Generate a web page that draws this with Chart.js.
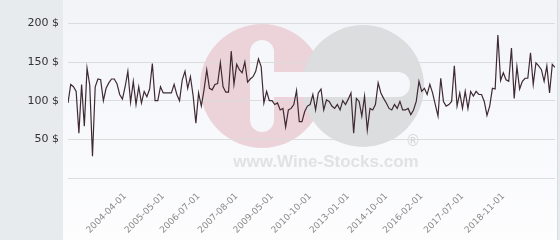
<!DOCTYPE html>
<html>
<head>
<meta charset="utf-8">
<script src="https://cdn.jsdelivr.net/npm/chart.js@4.4.1/dist/chart.umd.min.js"></script>
<style>
    html, body { margin: 0; padding: 0; background: #e7ebee; }
</style>
</head>
<body>
<canvas id="priceChart" width="560" height="240"></canvas>
<script>
// prix par bouteille, un point par cotation
const prices = [
    97, 121, 118, 112, 58, 121, 67, 142, 120, 28, 118, 128, 127, 100, 116, 123, 128, 128, 122, 108,
    102, 118, 138, 98, 125, 95, 118, 97, 112,
    105, 115, 148, 100, 100, 118, 110, 110, 110, 110, 121, 108, 100, 127, 138, 116, 131, 106, 71, 110,
    93, 114, 140, 116, 114, 121, 122, 149, 118, 111,
    111, 164, 121, 147, 140, 136, 150, 124, 128, 131, 138, 154, 144, 97, 112, 100, 100, 95, 97, 88,
    90, 66, 88, 90, 95, 113, 73, 73, 86, 93,
    95, 108, 88, 110, 115, 88, 101, 99, 93, 90, 95, 88, 100, 95, 102, 110, 58, 103, 99, 80,
    106, 62, 90, 88, 95, 123, 110, 103, 97, 90,
    88, 95, 90, 99, 88, 88, 90, 82, 88, 99, 125, 112, 116, 108, 121, 110, 95, 80, 129, 99,
    93, 95, 99, 145, 93, 110, 90, 112, 90, 112, 106,
    112, 108, 108, 99, 81, 93, 116, 115, 185, 126, 136, 127, 125, 168, 103, 144, 115, 125, 129, 129,
    162, 121, 149, 145, 140, 125, 145, 110, 147, 143
];

// dates affichées sous l'axe et leur position dans la série
const tickLabels = ['2004-04-01', '2005-05-01', '2006-07-01', '2007-08-01', '2009-05-01', '2010-10-01',
    '2013-01-01', '2014-10-01', '2016-02-01', '2017-07-01', '2018-11-01'];
const tickIndex = [21, 35, 48, 62, 75, 89, 103, 117, 130, 145, 160];

const yMax = 210;
const yStep = 50;

// fond du panneau + logo en filigrane
const backgroundPlugin = {
    id: 'panelBackground',
    beforeDraw(chart) {
        const ctx = chart.ctx;
        ctx.save();
        const grad = ctx.createLinearGradient(0, 0, 0, 240);
        grad.addColorStop(0, '#f2f4f8');
        grad.addColorStop(1, '#fdfdfe');
        ctx.fillStyle = grad;
        ctx.fillRect(63, 0, 494, 240);
        ctx.fillStyle = '#d9dde1';
        ctx.fillRect(557, 0, 1, 240);

        ctx.fillStyle = '#ebd3d9';
        ctx.beginPath();
        ctx.arc(262, 86, 62, 0, Math.PI * 2);
        ctx.fill();
        ctx.fillStyle = '#dcdddf';
        ctx.beginPath();
        ctx.arc(363, 86, 61, 0, Math.PI * 2);
        ctx.fill();

        ctx.fillStyle = '#f6f7fa';
        ctx.beginPath();
        ctx.roundRect(250, 40, 24, 92, 12);
        ctx.fill();
        ctx.beginPath();
        ctx.roundRect(262, 72, 148, 25, 12);
        ctx.fill();

        ctx.fillStyle = '#e1e2e4';
        ctx.font = 'bold 17px "Liberation Sans"';
        ctx.textAlign = 'center';
        ctx.fillText('www.Wine-Stocks.com', 326, 167);
        ctx.fillStyle = '#d6d7d9';
        ctx.font = '15px "DejaVu Sans"';
        ctx.fillText('®', 413, 146);
        ctx.restore();
    }
};

const ctx = document.getElementById('priceChart').getContext('2d');
new Chart(ctx, {
    type: 'line',
    data: {
        datasets: [{
            data: prices.map((v, i) => ({ x: i, y: v })),
            borderColor: '#3f2a32',
            borderWidth: 1.2,
            pointRadius: 0,
            tension: 0,
            fill: false
        }]
    },
    options: {
        responsive: false,
        animation: false,
        layout: { padding: { top: 0, right: 5, left: 0, bottom: 0 } },
        plugins: {
            legend: { display: false },
            tooltip: { enabled: false }
        },
        scales: {
            x: {
                type: 'linear',
                min: 0,
                max: prices.length - 1,
                grid: { display: false, drawTicks: false },
                border: { display: false },
                afterBuildTicks: axis => {
                    axis.ticks = tickIndex.map(v => ({ value: v }));
                },
                afterFit: axis => { axis.height = 62; },
                ticks: {
                    autoSkip: false,
                    minRotation: 45,
                    maxRotation: 45,
                    padding: 13,
                    color: '#8a8a8a',
                    font: { family: 'DejaVu Sans', size: 9 },
                    callback: (value) => {
                        const k = tickIndex.indexOf(value);
                        return k >= 0 ? tickLabels[k] : '';
                    }
                }
            },
            y: {
                min: 0,
                max: yMax,
                grid: { color: '#dcdcdc', lineWidth: 1, drawTicks: false },
                border: { display: false },
                afterFit: axis => { axis.width = 68; },
                ticks: {
                    stepSize: yStep,
                    includeBounds: false,
                    padding: 9,
                    color: '#333333',
                    font: { family: 'DejaVu Sans', size: 11 },
                    callback: (value) => value === 0 ? '' : value + ' $'
                }
            }
        }
    },
    plugins: [backgroundPlugin]
});
</script>
</body>
</html>
